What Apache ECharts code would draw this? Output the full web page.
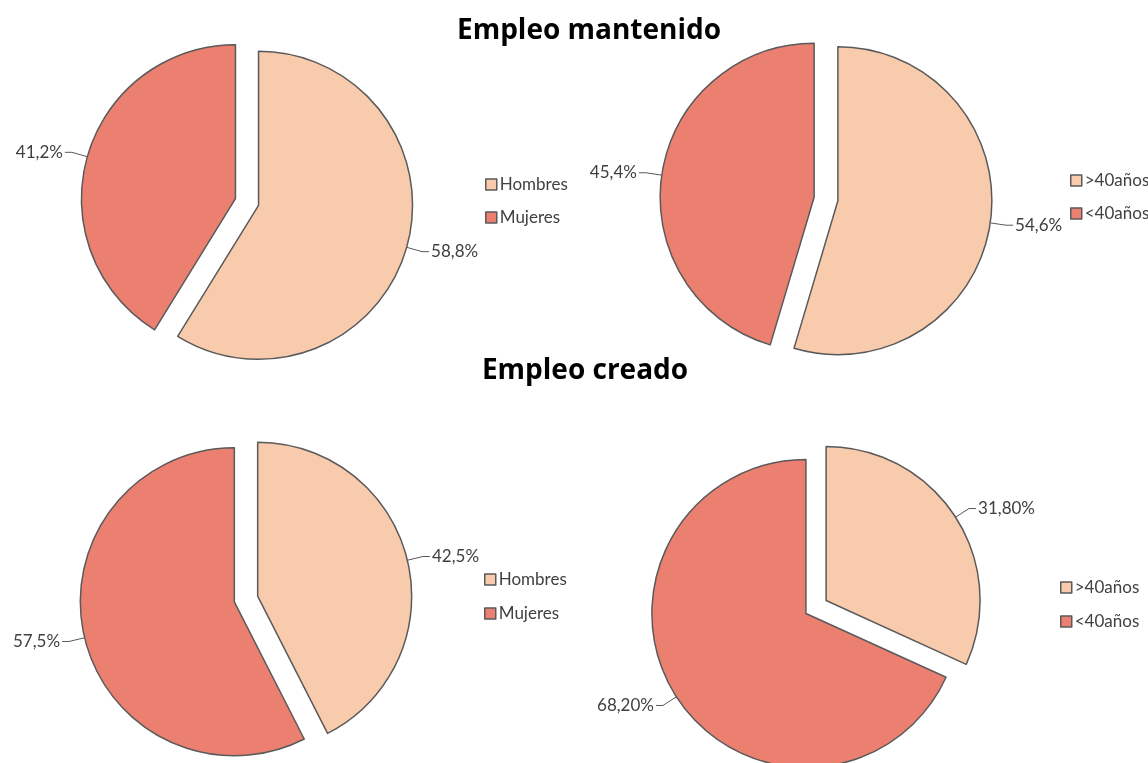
<!DOCTYPE html>
<html>
<head>
<meta charset="utf-8">
<script src="https://cdn.jsdelivr.net/npm/echarts@6/dist/echarts.min.js"></script>
<style>html,body{margin:0;padding:0;background:#fff}#c{width:1148px;height:763px}</style>
</head>
<body>
<div id="c"></div>
<script>
const sexCats = ['Hombres', 'Mujeres'];
const ageCats = ['>40años', '<40años'];
const mantenidoSexo = [58.8, 41.2];
const mantenidoEdad = [54.6, 45.4];
const creadoSexo = [42.5, 57.5];
const creadoEdad = [31.8, 68.2];
const titles = ['Empleo mantenido', 'Empleo creado'];

const colors = ['#F8CBAD', '#EC8070'];
const FONT = 'Lato, "Open Sans", sans-serif';
const TFONT = '"Open Sans", Lato, sans-serif';

function mkSeries(name, cats, vals, decimals, center) {
  return {
    type: 'pie',
    name: name,
    center: center,
    radius: 154,
    startAngle: 90,
    clockwise: true,
    selectedMode: 'multiple',
    selectedOffset: 12,
    animation: false,
    emphasis: { disabled: true },
    itemStyle: { borderColor: '#5a5a5a', borderWidth: 1.5 },
    label: {
      show: true,
      position: 'outside',
      color: '#404040',
      fontFamily: FONT,
      fontSize: 17,
      distanceToLabelLine: 2,
      formatter: p => p.value.toFixed(decimals).replace('.', ',') + '%'
    },
    labelLine: { show: true, length: 16, length2: 7, lineStyle: { color: '#595959', width: 1 } },
    data: cats.map((c, i) => ({ name: c, value: vals[i], selected: true, itemStyle: { color: colors[i] } }))
  };
}

function mkLegend(cats, left, top, gap) {
  return {
    orient: 'vertical',
    left: left,
    top: top,
    padding: 0,
    data: cats,
    icon: 'rect',
    itemWidth: 11,
    itemHeight: 11,
    itemGap: gap,
    selectedMode: false,
    textStyle: { fontFamily: FONT, fontSize: 17, color: '#404040', padding: [0, 0, 0, -2] },
    itemStyle: { borderColor: '#5a5a5a', borderWidth: 1.5 }
  };
}

const chart = echarts.init(document.getElementById('c'), null, { renderer: 'canvas' });
chart.setOption({
  animation: false,
  color: colors,
  title: [
    { text: titles[0], left: 584, textAlign: 'center', top: 12, textStyle: { fontFamily: TFONT, fontSize: 28, fontWeight: 'bold', color: '#000' } },
    { text: titles[1], left: 580, textAlign: 'center', top: 352, textStyle: { fontFamily: TFONT, fontSize: 28, fontWeight: 'bold', color: '#000' } }
  ],
  legend: [
    mkLegend(sexCats, 485, 176, 16),
    mkLegend(ageCats, 1070, 172, 16),
    mkLegend(sexCats, 484, 571, 17),
    mkLegend(ageCats, 1060, 579, 17)
  ],
  series: [
    mkSeries('mantSexo', sexCats, mantenidoSexo, 1, [247, 202]),
    mkSeries('mantEdad', ageCats, mantenidoEdad, 1, [826, 199]),
    mkSeries('creaSexo', sexCats, creadoSexo, 1, [246, 599]),
    mkSeries('creaEdad', ageCats, creadoEdad, 2, [816, 607])
  ]
});
</script>
</body>
</html>
